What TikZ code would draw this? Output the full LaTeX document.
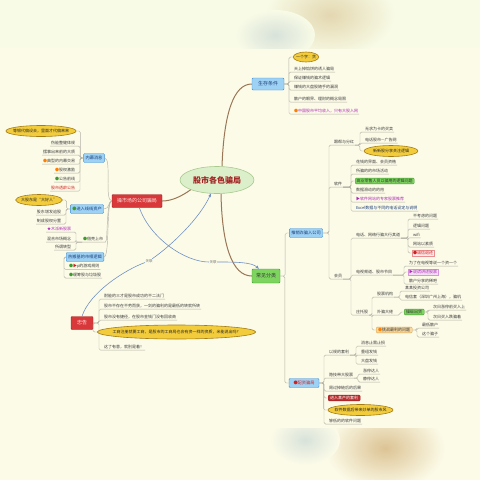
\documentclass[tikz,border=0pt]{standalone}
\usepackage{fontspec}
\newfontfamily\cjk{Noto Sans CJK SC}
\usetikzlibrary{shapes.geometric,arrows.meta}
\definecolor{bg}{HTML}{FCFBE8}
\definecolor{bgtop}{HTML}{F8FBE6}
\definecolor{lnc}{HTML}{B4B2A6}
\definecolor{brn}{HTML}{9A7656}
\definecolor{bfill}{HTML}{9ED2F4}
\definecolor{bdraw}{HTML}{3C8ED6}
\definecolor{btext}{HTML}{1C3E7A}
\definecolor{gfill}{HTML}{7DD45E}
\definecolor{gdraw}{HTML}{3E9A2C}
\definecolor{rfill}{HTML}{D8383A}
\definecolor{rdraw}{HTML}{9E1A1C}
\definecolor{yfill}{HTML}{F3CC3C}
\definecolor{ydraw}{HTML}{A67C12}
\definecolor{cfill}{HTML}{DCEFCB}
\definecolor{cdraw}{HTML}{A9C98E}
\definecolor{ctext}{HTML}{A22222}
\definecolor{lnk}{HTML}{7090C4}
\definecolor{txt}{HTML}{3A3A3A}
\definecolor{purp}{HTML}{B02AB8}
\definecolor{redt}{HTML}{D02020}
\definecolor{ofill}{HTML}{F7D9A0}
\definecolor{odraw}{HTML}{E0A040}
\definecolor{blobA}{HTML}{E3D7B0}
\definecolor{blobB}{HTML}{D8E2DA}
\definecolor{blobC}{HTML}{DCC394}
\newcommand\mmR[2]{\draw[ln] (#1) -| ([xshift=-4pt]#2.south west) -- (#2.south west) -- (#2.south east);}
\newcommand\mmRb[2]{\draw[ln] (#1) -| ([xshift=-4pt]#2.west) -- (#2.west);}
\newcommand\mmL[2]{\draw[ln] (#1) -| ([xshift=4pt]#2.south east) -- (#2.south east) -- (#2.south west);}
\newcommand\mmLb[2]{\draw[ln] (#1) -| ([xshift=4pt]#2.east) -- (#2.east);}
\tikzset{
 lf/.style={font=\cjk\fontsize{4}{4.8}\selectfont, text=txt, inner xsep=0.8pt, inner ysep=1pt},
 boxbase/.style={font=\cjk\fontsize{4.2}{5}\selectfont, inner xsep=2pt, inner ysep=1.5pt, rounded corners=1pt, line width=0.4pt},
 bluebox/.style={boxbase, draw=bdraw, fill=bfill, text=btext},
 greenbox/.style={boxbase, draw=gdraw, fill=gfill, text=black!80},
 redbox/.style={boxbase, draw=rdraw, fill=rfill, text=white},
 yell/.style={ellipse, draw=ydraw, fill=yfill, line width=0.6pt, font=\cjk\fontsize{4}{4.8}\selectfont, text=black!85, inner xsep=-2.5pt, inner ysep=0.5pt, minimum height=11},
 central/.style={ellipse, draw=cdraw, fill=cfill, line width=0.6pt, minimum width=74, minimum height=27, inner sep=0pt, font=\cjk\bfseries\fontsize{8}{9}\selectfont, text=ctext},
 ln/.style={draw=lnc, line width=0.45pt, rounded corners=1.5pt},
 brnl/.style={draw=brn, line width=1pt},
 lnkl/.style={draw=lnk, line width=0.6pt},
 lbl/.style={font=\cjk\fontsize{3.5}{4}\selectfont, text=black!55, fill=bg, inner sep=0.5pt},
}
\begin{document}
\begin{tikzpicture}[x=1pt,y=-1pt]
\useasboundingbox (0,0) rectangle (480,480);
\fill[bg] (0,0) rectangle (480,480);
\fill[bgtop] (0,0) rectangle (480,48);
\begin{scope}
\clip (0,0) rectangle (480,48);
\shade[inner color=blobA, outer color=bgtop] (330,15) ellipse [x radius=65, y radius=42];
\shade[inner color=blobB, outer color=bgtop] (275,35) ellipse [x radius=40, y radius=25];
\end{scope}
\begin{scope}
\clip (0,428) rectangle (480,480);
\shade[inner color=blobC, outer color=bg] (385,448) ellipse [x radius=60, y radius=42];
\shade[inner color=blobB, outer color=bg] (305,440) ellipse [x radius=35, y radius=25];
\end{scope}

% ---------- central and main topics
\node[central] (c) at (217,180) {股市各色骗局};
\node[redbox, minimum width=50, minimum height=13, font=\cjk\fontsize{5}{6}\selectfont, text=red!10] (cp) at (137,201) {操市场的公司骗局};
\node[bluebox, minimum width=32, minimum height=12, font=\cjk\fontsize{5}{6}\selectfont] (sc) at (268,84) {生存条件};
\node[greenbox, minimum width=28, minimum height=14, font=\cjk\fontsize{5}{6}\selectfont] (cl) at (266,276) {常见分类};
\node[redbox, minimum width=22, minimum height=13, font=\cjk\fontsize{5}{6}\selectfont, text=red!10] (zg) at (82,323) {忠告};

% ---------- left: 操市场的公司骗局
\node[bluebox, minimum height=9] (nm) at (94,158) {内幕消息};
\node[yell, inner xsep=-3.2pt] (nm0) at (41,131) {等银代偏设去，里面才代偏来来};
\node[lf,anchor=east] (nm1) at (76,143) {伤能整健体规};
\node[lf,anchor=east] (nm2) at (76,152) {摆事出来前的大质};
\node[lf,anchor=east] (nm3) at (76,161) {\textcolor{orange}{●}典型的内幕交易};
\node[lf,anchor=east] (nm4) at (76,170) {\textcolor{orange}{●}股权激励};
\node[lf,anchor=east] (nm5) at (76,179) {\textcolor{gdraw}{●}公告前线};
\node[lf,anchor=east,text=redt] (nm6) at (76,188) {股市透龄公告};
\mmLb{nm.west}{nm0}
\mmL{nm.west}{nm1}
\mmL{nm.west}{nm2}
\mmL{nm.west}{nm3}
\mmL{nm.west}{nm4}
\mmL{nm.west}{nm5}
\mmL{nm.west}{nm6}

\node[bluebox, minimum height=9] (jr) at (87,209) {\textcolor{gdraw}{●}进入线线资产};
\node[yell, inner xsep=-1.5pt] (jr0) at (39,200) {大股东是“大好人”};
\node[lf,anchor=east] (jr1) at (62,212) {股东增发追股};
\node[lf,anchor=east] (jr2) at (62,221) {制成股权分置};
\mmLb{jr.west}{jr0}
\mmL{jr.west}{jr1}
\mmL{jr.west}{jr2}

\node[lf,anchor=west] (jk) at (82,239) {\textcolor{gdraw}{●}借壳上市};
\node[lf,anchor=east,text=purp] (jk1) at (72,229) {★木派新股票};
\node[lf,anchor=east] (jk2) at (72,239) {混合市场概念};
\node[lf,anchor=east] (jk3) at (72,247) {所谓转型};
\mmL{jk.south west}{jk1}
\mmL{jk.south west}{jk2}
\mmL{jk.south west}{jk3}

\node[bluebox, minimum height=9] (rb) at (85,257) {热搬基的市相逻辑};
\node[lf,anchor=west] (rb1) at (68,266) {\textcolor{gdraw}{●}\textcolor{redt}{▶}p的游戏规则};
\node[lf,anchor=west] (rb2) at (68,275) {\textcolor{gdraw}{●}缓筹股与垃圾股};
\draw[ln] (rb.west) -- ++(-2,0) |- (rb1.south west) -- (rb1.south east);
\draw[ln] (rb.west) -- ++(-2,0) |- (rb2.south west) -- (rb2.south east);

\draw[ln] (cp.west) .. controls (104,201) and (112,158) .. (nm.east);
\draw[ln] (cp.west) .. controls (108,201) and (110,209) .. (jr.east);
\draw[ln] (cp.west) .. controls (106,201) and (108,242) .. (jk.south east) -- (jk.south west);
\draw[ln] (cp.west) .. controls (106,201) and (110,257) .. (rb.east);

% ---------- left bottom: 忠告
\node[lf,anchor=west] (zg1) at (103,296) {耐能的三才是股市成功的不二法门};
\node[lf,anchor=west] (zg2) at (103,306) {股市不存在不劳而获，一剑的骗利的是最低的转就所转};
\node[lf,anchor=west] (zg3) at (103,317) {股市没有捷径，在股市金钱门没有回收商};
\node[yell, inner xsep=-8pt, minimum height=14] (zg4) at (176.5,332) {工商注册就要工商，是股市的工商局也会有资一样的资质，米能说出吗？};
\node[lf,anchor=west] (zg5) at (103,347) {这了有意，就别是着！};
\mmR{zg.east}{zg1}
\mmR{zg.east}{zg2}
\mmR{zg.east}{zg3}
\mmRb{zg.east}{zg4}
\mmR{zg.east}{zg5}

% ---------- right top: 生存条件
\node[yell, inner xsep=-1pt, minimum height=10] (sc0) at (306,57) {一个字：贪};
\node[lf,anchor=west] (sc1) at (293,69) {天上掉馅饼的诱人骗局};
\node[lf,anchor=west] (sc2) at (293,78) {保证赚钱的骗术逻辑};
\node[lf,anchor=west] (sc3) at (293,87) {赚钱的大盘股随手的漏洞};
\node[lf,anchor=west] (sc4) at (293,99) {散户的眼界、理财的概念局限};
\node[lf,anchor=west,text=purp] (sc5) at (293,111) {\textcolor{orange}{●}中国股市平均收入，只有大股入网};
\mmRb{sc.east}{sc0}
\mmR{sc.east}{sc1}
\mmR{sc.east}{sc2}
\mmR{sc.east}{sc3}
\mmR{sc.east}{sc4}
\mmR{sc.east}{sc5}

% ---------- right: 常见分类
\node[bluebox, minimum height=9] (tx) at (306,233) {推销诈骗入公司};
\node[bluebox, minimum height=9, minimum width=30, text=redt] (pz) at (304,383) {\textcolor{redt}{●}配资骗局};
\mmRb{cl.east}{tx}
\mmRb{cl.east}{pz}

\node[lf,anchor=west] (g1) at (333,142) {跟帮与分红};
\node[lf,anchor=west] (g2) at (333,184) {软件};
\node[lf,anchor=west] (g3) at (333,276) {会员};
\mmR{tx.east}{g1}
\mmR{tx.east}{g2}
\mmR{tx.east}{g3}

\node[lf,anchor=west] (g11) at (364,129) {无求为卡的买卖};
\node[lf,anchor=west] (g12) at (364,140) {电话股市—广告网};
\node[yell, inner xsep=1pt] (g13) at (391,151) {新新股分享关注逻辑};
\mmR{g1.south east}{g11}
\mmR{g1.south east}{g12}
\mmRb{g1.south east}{g13}

\node[lf,anchor=west] (g21) at (355,162) {花钱的界面、会员资格};
\node[lf,anchor=west] (g22) at (355,171) {所骗的的市场活动};
\node[greenbox,anchor=west,font=\cjk\fontsize{4}{4.8}\selectfont,inner ysep=1pt,inner xsep=1.5pt] (g23) at (355,181) {高业零售人员以骗用的逻辑问题};
\node[lf,anchor=west] (g24) at (355,190) {数据滑动的的用};
\node[lf,anchor=west,text=purp] (g25) at (355,199) {▶软件网站的专家股票推荐};
\node[lf,anchor=west,text=btext] (g26) at (355,208) {Excel数据与不同的电话设定与说明};
\mmR{g2.south east}{g21}
\mmR{g2.south east}{g22}
\mmRb{g2.south east}{g23}
\mmR{g2.south east}{g24}
\mmR{g2.south east}{g25}
\mmR{g2.south east}{g26}

\node[lf,anchor=west] (g31) at (355,235) {电话、网络行骗大行其道};
\node[lf,anchor=west] (g32) at (355,272) {电视频道、股市节目};
\node[lf,anchor=west] (g33) at (355,312) {庄托股};
\mmR{g3.south east}{g31}
\mmR{g3.south east}{g32}
\mmR{g3.south east}{g33}

\node[lf,anchor=west] (g311) at (412,216) {不考虑的问题};
\node[lf,anchor=west] (g312) at (412,226) {逻辑问题};
\node[lf,anchor=west] (g313) at (412,235) {wifi};
\node[lf,anchor=west] (g314) at (412,244) {网站以素质};
\node[lf,anchor=west,text=redt,draw=redt!50,fill=red!8] (g315) at (412,253) {●诚信退还};
\mmR{g31.south east}{g311}
\mmR{g31.south east}{g312}
\mmR{g31.south east}{g313}
\mmR{g31.south east}{g314}
\mmRb{g31.south east}{g315}

\node[lf,anchor=west] (g321) at (408,263) {为了在电视等说一个资一个};
\node[lf,anchor=west,text=purp,draw=purp!50,fill=purp!15] (g322) at (408,272) {▶说谎讲述股票};
\node[lf,anchor=west] (g323) at (408,281) {散户分享的稀吧};
\mmR{g32.south east}{g321}
\mmRb{g32.south east}{g322}
\mmR{g32.south east}{g323}

\node[lf,anchor=west] (g331) at (376,294) {股票机构};
\node[lf,anchor=west] (g332) at (376,312) {外骗大佬};
\node[boxbase,anchor=west,draw=odraw,fill=ofill,text=black!80,font=\cjk\fontsize{4}{4.8}\selectfont,inner ysep=1pt] (g333) at (376,330) {\textcolor{orange}{●}挑战最利的问题};
\mmR{g33.south east}{g331}
\mmR{g33.south east}{g332}
\mmRb{g33.south east}{g333}

\node[lf,anchor=west] (g3311) at (404,288) {某某投资公司};
\node[lf,anchor=west] (g3312) at (404,297) {电信套（深圳广州上海），骗机};
\mmR{g331.south east}{g3311}
\mmR{g331.south east}{g3312}

\node[greenbox,anchor=west,font=\cjk\fontsize{4}{4.8}\selectfont,inner ysep=1pt] (g3321) at (404,312) {操纵出货};
\mmRb{g332.south east}{g3321}
\node[lf,anchor=west] (g33211) at (432,307) {次日涨停前买入上};
\node[lf,anchor=west] (g33212) at (432,317) {次日买入跌骗着};
\mmR{g3321.east}{g33211}
\mmR{g3321.east}{g33212}

\node[lf,anchor=west] (g3331) at (421,325) {最低散户};
\node[lf,anchor=west] (g3332) at (421,334) {这个骗子};
\mmR{g333.east}{g3331}
\mmR{g333.east}{g3332}

% ---------- 配资骗局
\node[lf,anchor=west] (p1) at (328,352) {以规的套利};
\node[lf,anchor=west] (p2) at (328,375) {隐技带大股票};
\node[lf,anchor=west] (p3) at (328,388) {周过掉链后的后果};
\node[redbox,anchor=west,fill=rfill!85!black,font=\cjk\fontsize{4}{4.8}\selectfont,inner ysep=1pt] (p4) at (328,398) {进入某产的套利};
\node[yell, inner xsep=-3pt] (p5) at (360.5,410) {软件数据后带来炒单的股市风};
\node[lf,anchor=west] (p6) at (328,421) {够低的的软件问题};
\mmR{pz.east}{p1}
\mmR{pz.east}{p2}
\mmR{pz.east}{p3}
\mmRb{pz.east}{p4}
\mmRb{pz.east}{p5}
\mmR{pz.east}{p6}

\node[lf,anchor=west] (p11) at (360,343) {消息止需止损};
\node[lf,anchor=west] (p12) at (360,352) {重组发钱};
\node[lf,anchor=west] (p13) at (360,361) {大盘发钱};
\mmR{p1.south east}{p11}
\mmR{p1.south east}{p12}
\mmR{p1.south east}{p13}
\node[lf,anchor=west] (p21) at (362,371) {涨停达人};
\node[lf,anchor=west] (p22) at (362,379) {静停达人};
\mmR{p2.south east}{p21}
\mmR{p2.south east}{p22}

% ---------- main branches
\draw[brnl] (c.south west) .. controls (182,196) and (172,201) .. (cp.east);
\draw[brnl] ([xshift=5pt]c.north) .. controls (224,112) and (234,84) .. (sc.west);
\draw[brnl] ([xshift=4pt]c.south) .. controls (222,245) and (232,276) .. (cl.west);

% ---------- relationships
\node[lbl] (l1) at (149,261) {关联};
\node[lbl] (l2) at (213,262) {关联};
\draw[lnkl] (zg.north) .. controls (90,292) and (125,270) .. (l1);
\draw[lnkl,-{Stealth[length=3.5pt,width=3pt]}] (l1) .. controls (172,245) and (200,218) .. (c);
\draw[lnkl] (cp) .. controls (150,238) and (185,262) .. (l2);
\draw[lnkl,-{Stealth[length=3.5pt,width=3pt]}] (l2) .. controls (235,262) and (252,262) .. (cl);
\end{tikzpicture}
\end{document}
